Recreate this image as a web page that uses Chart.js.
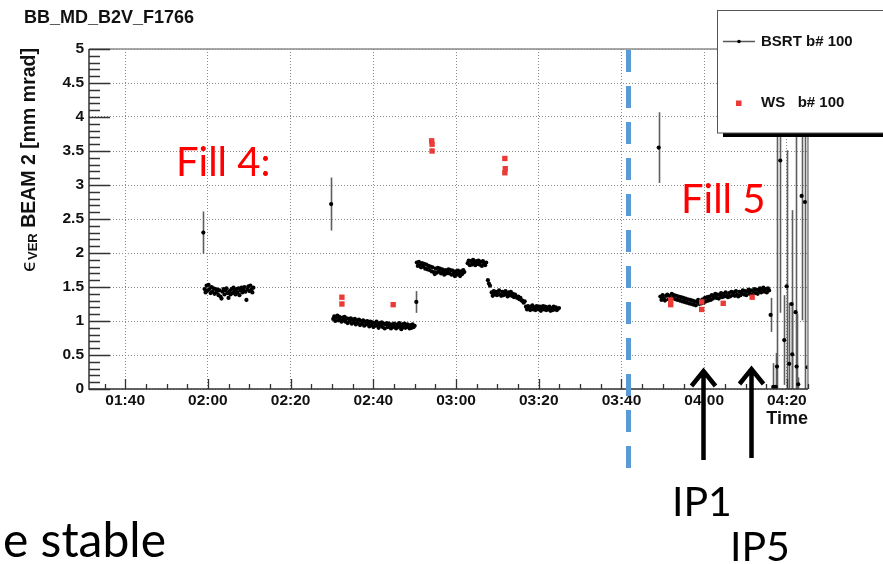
<!DOCTYPE html>
<html>
<head>
<meta charset="utf-8">
<title>BB_MD_B2V_F1766</title>
<script src="https://cdn.jsdelivr.net/npm/chart.js@4.4.1/dist/chart.umd.min.js"></script>
<style>
  html, body { margin: 0; padding: 0; background: #fff; overflow: hidden; }
  #wrap { position: relative; width: 883px; height: 564px; overflow: hidden; }
  canvas { position: absolute; left: 0; top: 0; }
</style>
</head>
<body>
<div id="wrap"><canvas id="c" width="883" height="564"></canvas></div>
<script>
// ---- time axis (minutes after midnight) ----
const timeTickMinutes = [100, 120, 140, 160, 180, 200, 220, 240, 260];
const timeTickLabels  = ['01:40', '02:00', '02:20', '02:40', '03:00', '03:20', '03:40', '04:00', '04:20'];

// ---- BSRT b# 100: continuous logging runs, [first, last] sample time and readings ----
const fill4RunASpan = [119.2, 131.0];
const fill4RunA = [1.47, 1.42, 1.52, 1.45, 1.53, 1.47, 1.41, 1.50, 1.43, 1.48, 1.40, 1.47, 1.42, 1.46,
                   1.38, 1.45, 1.36, 1.33, 1.43, 1.47, 1.39, 1.45, 1.48, 1.41, 1.34, 1.44, 1.39, 1.47,
                   1.41, 1.49, 1.44, 1.39, 1.47, 1.42, 1.48, 1.38, 1.45, 1.49, 1.42, 1.46, 1.50, 1.43,
                   1.31, 1.47, 1.51, 1.44, 1.52, 1.46, 1.42, 1.49];

const fill4RunBSpan = [150.3, 170.0];
const fill4RunB = [1.03, 1.07, 1.00, 1.05, 1.08, 1.01, 1.06, 1.02, 0.99, 1.05, 1.01, 1.06, 0.99, 1.04,
                   0.97, 1.03, 0.99, 1.04, 0.96, 1.02, 0.98, 1.03, 0.95, 1.01, 0.97, 1.02, 0.94, 1.00,
                   0.96, 1.01, 0.93, 0.99, 0.95, 1.00, 0.96, 0.92, 0.99, 0.94, 0.98, 0.91, 0.97, 0.93,
                   0.99, 0.94, 0.90, 0.97, 0.93, 0.98, 0.91, 0.96, 0.89, 0.95, 0.97, 0.91, 0.96, 0.92,
                   0.89, 0.95, 0.91, 0.96, 0.92, 0.89, 0.95, 0.91, 0.97, 0.92, 0.88, 0.95, 0.91, 0.96,
                   0.90, 0.94, 0.95, 0.91, 0.89, 0.94, 0.90, 0.95, 0.91, 0.93];

const fill4RunCSpan = [170.5, 182.0];
const fill4RunC = [1.86, 1.81, 1.87, 1.82, 1.79, 1.85, 1.80, 1.84, 1.77, 1.83, 1.76, 1.81, 1.75, 1.80,
                   1.73, 1.79, 1.72, 1.69, 1.77, 1.71, 1.78, 1.73, 1.77, 1.70, 1.76, 1.72, 1.68, 1.75,
                   1.70, 1.74, 1.76, 1.70, 1.75, 1.68, 1.74, 1.70, 1.66, 1.73, 1.68, 1.74, 1.70, 1.66,
                   1.73, 1.69, 1.75, 1.72];

const fill4RunDSpan = [182.8, 187.3];
const fill4RunD = [1.85, 1.89, 1.82, 1.88, 1.83, 1.90, 1.86, 1.82, 1.88, 1.84, 1.89, 1.83, 1.87, 1.81,
                   1.88, 1.84, 1.82, 1.86];

const fill4RunESpan = [187.7, 188.2];
const fill4RunE = [1.60, 1.55, 1.52];

const fill4RunFSpan = [188.6, 196.6];
const fill4RunF = [1.42, 1.37, 1.44, 1.39, 1.43, 1.38, 1.42, 1.45, 1.39, 1.37, 1.43, 1.38, 1.42, 1.44,
                   1.39, 1.36, 1.42, 1.38, 1.43, 1.37, 1.40, 1.35, 1.39, 1.36, 1.34, 1.36, 1.32, 1.34,
                   1.30, 1.30, 1.27, 1.29];

const fill4RunGSpan = [196.9, 204.9];
const fill4RunG = [1.21, 1.17, 1.22, 1.19, 1.16, 1.21, 1.23, 1.17, 1.20, 1.16, 1.22, 1.18, 1.17, 1.21,
                   1.15, 1.19, 1.22, 1.17, 1.21, 1.16, 1.20, 1.17, 1.21, 1.15, 1.19, 1.16, 1.21, 1.17,
                   1.20, 1.16, 1.18, 1.19];

const fill5RunSpan = [229.4, 255.7];
const fill5Run = [1.36, 1.31, 1.38, 1.33, 1.30, 1.37, 1.39, 1.32, 1.37, 1.33, 1.40, 1.34, 1.38, 1.32,
                  1.37, 1.31, 1.36, 1.30, 1.35, 1.29, 1.34, 1.28, 1.33, 1.27, 1.32, 1.26, 1.31, 1.25,
                  1.30, 1.24, 1.29, 1.23, 1.28, 1.31, 1.25, 1.30, 1.26, 1.32, 1.27, 1.34, 1.29, 1.35,
                  1.30, 1.36, 1.31, 1.38, 1.33, 1.37, 1.40, 1.34, 1.39, 1.33, 1.38, 1.41, 1.35, 1.40,
                  1.36, 1.42, 1.37, 1.35, 1.41, 1.36, 1.43, 1.38, 1.42, 1.37, 1.44, 1.39, 1.36, 1.43,
                  1.38, 1.42, 1.45, 1.39, 1.44, 1.38, 1.43, 1.46, 1.40, 1.45, 1.39, 1.44, 1.47, 1.41,
                  1.46, 1.40, 1.45, 1.48, 1.42, 1.46, 1.49, 1.43, 1.47, 1.42, 1.48, 1.45];

// ---- BSRT b# 100: single readings with their errors ----
const bsrtSingleTime  = [118.9, 149.8, 170.4, 229.0, 256.06, 256.7, 257.3, 257.6, 258.4, 259.35,
                         259.93, 260.56, 261.14, 261.29, 262.1, 262.35, 262.74, 263.56, 264.36, 265.0];
const bsrtSingleValue = [2.30, 2.72, 1.28, 3.55, 1.09, 0.03, 0.03, 0.33, 3.36, 0.72,
                         1.51, 0.37, 1.25, 0.51, 1.13, 0.33, 0.07, 2.84, 2.75, 0.32];
const bsrtSingleError = [0.31, 0.39, 0.16, 0.52, 0.25, 0.35, 0.50, 5.00, 2.24, 0.66,
                         2.00, 0.90, 1.38, 0.75, 4.00, 0.78, 0.10, 1.83, 2.90, 4.50];

// ---- WS b# 100: wire-scanner measurements ----
const wsTime  = [152.4, 152.4, 164.8, 174.1, 174.2, 174.2, 191.8, 191.9, 191.8,
                 231.9, 231.9, 239.4, 239.4, 244.6, 251.6];
const wsValue = [1.35, 1.25, 1.24, 3.65, 3.60, 3.50, 3.39, 3.24, 3.18,
                 1.31, 1.24, 1.28, 1.17, 1.26, 1.35];

// ---- build point lists ----
function run(span, values) {
  return values.map((v, i) => ({
    x: span[0] + (span[1] - span[0]) * i / (values.length - 1),
    y: v,
    err: 0
  }));
}
const bsrtPoints = [].concat(
  run(fill4RunASpan, fill4RunA), run(fill4RunBSpan, fill4RunB), run(fill4RunCSpan, fill4RunC),
  run(fill4RunDSpan, fill4RunD), run(fill4RunESpan, fill4RunE), run(fill4RunFSpan, fill4RunF),
  run(fill4RunGSpan, fill4RunG), run(fill5RunSpan, fill5Run),
  bsrtSingleTime.map((t, i) => ({ x: t, y: bsrtSingleValue[i], err: bsrtSingleError[i] }))
);
const wsPoints = wsTime.map((t, i) => ({ x: t, y: wsValue[i] }));

const rootFont = '"Liberation Sans", Arial, Helvetica, sans-serif';
const slideFont = 'Lato, "Open Sans", sans-serif';

// error bars, drawn under the markers
const errorBars = {
  id: 'errorBars',
  beforeDatasetsDraw(chart) {
    const { ctx, chartArea: a, scales: { x, y } } = chart;
    ctx.save();
    ctx.beginPath();
    ctx.rect(a.left, a.top, a.right - a.left, a.bottom - a.top);
    ctx.clip();
    ctx.strokeStyle = '#5e5e5e';
    ctx.lineWidth = 1.6;
    bsrtPoints.forEach(p => {
      if (!p.err) return;
      const px = Math.round(x.getPixelForValue(p.x)) + 0.5;
      ctx.beginPath();
      ctx.moveTo(px, y.getPixelForValue(p.y - p.err));
      ctx.lineTo(px, y.getPixelForValue(p.y + p.err));
      ctx.stroke();
    });
    ctx.restore();
  }
};

// frame, inward tick marks, titles and legend box
const rootFrame = {
  id: 'rootFrame',
  afterDatasetsDraw(chart) {
    const { ctx, chartArea: a, scales: { x, y } } = chart;
    ctx.save();
    ctx.lineWidth = 1.5;
    ctx.strokeStyle = '#8c8c8c';
    ctx.beginPath();
    ctx.moveTo(a.left, a.top); ctx.lineTo(a.right, a.top); ctx.lineTo(a.right, a.bottom);
    ctx.stroke();
    ctx.strokeStyle = '#333';
    ctx.beginPath();
    ctx.moveTo(a.left, a.top); ctx.lineTo(a.left, a.bottom); ctx.lineTo(a.right, a.bottom);
    ctx.stroke();

    ctx.lineWidth = 1.3;
    ctx.strokeStyle = '#333';
    ctx.beginPath();
    for (let k = 0; k <= 50; k++) {
      const py = Math.round(y.getPixelForValue(k / 10)) + 0.5;
      const len = k % 5 === 0 ? 21 : 11;
      ctx.moveTo(a.left, py); ctx.lineTo(a.left + len, py);
    }
    for (let m = 95; m <= x.max; m += 5) {
      const px = Math.round(x.getPixelForValue(m)) + 0.5;
      const len = m % 20 === 0 ? 10 : 5;
      ctx.moveTo(px, a.bottom); ctx.lineTo(px, a.bottom - len);
    }
    ctx.stroke();
    ctx.restore();
  },
  afterDraw(chart) {
    const { ctx } = chart;
    ctx.save();
    ctx.fillStyle = '#111';
    ctx.textBaseline = 'middle';
    ctx.textAlign = 'left';
    ctx.font = 'bold 18px ' + rootFont;
    ctx.fillText('BB_MD_B2V_F1766', 24, 18);

    // vertical axis title with subscript
    const big = 'bold 19.5px ' + rootFont;
    const sym = '19.5px "DejaVu Sans", ' + rootFont;
    const sub = 'bold 13px ' + rootFont;
    ctx.font = sym; const wE = ctx.measureText('\u03F5').width;
    ctx.font = sub; const wV = ctx.measureText('VER').width;
    ctx.font = big; const wR = ctx.measureText(' BEAM 2 [mm mrad]').width;
    const total = wE + wV + wR;
    ctx.translate(29.5, 0);
    ctx.rotate(-Math.PI / 2);
    let pos = -48 - total;
    ctx.font = sym; ctx.fillText('\u03F5', pos, 0); pos += wE;
    ctx.font = sub; ctx.fillText('VER', pos, 4); pos += wV;
    ctx.font = big; ctx.fillText(' BEAM 2 [mm mrad]', pos, 0);
    ctx.restore();

    // legend
    ctx.save();
    ctx.fillStyle = '#000';
    ctx.fillRect(723, 133, 170, 4);
    ctx.fillStyle = '#fff';
    ctx.fillRect(717.5, 10.5, 200, 122.5);
    ctx.strokeStyle = '#555';
    ctx.lineWidth = 1;
    ctx.strokeRect(717.5, 10.5, 200, 122.5);
    ctx.strokeStyle = '#555';
    ctx.lineWidth = 1.5;
    ctx.beginPath(); ctx.moveTo(723, 41.5); ctx.lineTo(755, 41.5); ctx.stroke();
    ctx.fillStyle = '#000';
    ctx.beginPath(); ctx.arc(739, 41.5, 1.8, 0, Math.PI * 2); ctx.fill();
    ctx.fillStyle = '#ec3b36';
    ctx.fillRect(736, 100.5, 5.5, 5.5);
    ctx.fillStyle = '#111';
    ctx.font = 'bold 15px ' + rootFont;
    ctx.textBaseline = 'middle';
    ctx.fillText(chart.data.datasets[1].label, 761, 42);
    ctx.fillText(chart.data.datasets[0].label, 761, 103);
    ctx.restore();

    // slide marks: fill boundary, IP arrows and captions
    ctx.save();
    ctx.strokeStyle = '#5b9bd5';
    ctx.lineWidth = 5;
    ctx.setLineDash([22, 14]);
    ctx.beginPath(); ctx.moveTo(628.5, 50); ctx.lineTo(628.5, 475); ctx.stroke();
    ctx.setLineDash([]);
    ctx.strokeStyle = '#000';
    ctx.lineWidth = 4.5;
    [[703.5, 369, 460], [751.5, 367, 458]].forEach(([ax, tip, end]) => {
      ctx.beginPath();
      ctx.moveTo(ax, end); ctx.lineTo(ax, tip + 2);
      ctx.moveTo(ax - 12, tip + 17); ctx.lineTo(ax, tip + 2); ctx.lineTo(ax + 12, tip + 17);
      ctx.stroke();
    });
    ctx.textBaseline = 'alphabetic';
    ctx.fillStyle = '#ff0000';
    ctx.font = '40px ' + slideFont;
    ctx.fillText('Fill 4:', 176, 176);
    ctx.fillText('Fill 5', 681, 213);
    ctx.fillStyle = '#000';
    ctx.font = '41px ' + slideFont;
    ctx.fillText('IP1', 672, 516);
    ctx.fillText('IP5', 730, 561);
    ctx.font = '48px ' + slideFont;
    ctx.textAlign = 'right';
    ctx.fillText('e stable', 166, 557);
    ctx.restore();
  }
};

const tickFont = { family: rootFont, size: 15.5, weight: 'bold' };

new Chart(document.getElementById('c'), {
  type: 'scatter',
  data: {
    datasets: [
      { label: 'WS   b# 100', data: wsPoints, pointStyle: 'rect', pointRadius: 3.8,
        backgroundColor: '#ec3b36', borderWidth: 0 },
      { label: 'BSRT b# 100', data: bsrtPoints, pointStyle: 'circle', pointRadius: 2.1,
        backgroundColor: '#000', borderWidth: 0 }
    ]
  },
  options: {
    responsive: false,
    animation: false,
    events: [],
    layout: { padding: { left: 0, right: 75, top: 49, bottom: 130 } },
    plugins: { legend: { display: false }, tooltip: { enabled: false }, title: { display: false } },
    scales: {
      x: {
        type: 'linear',
        min: 91.25,
        max: 265.1,
        afterBuildTicks: s => { s.ticks = timeTickMinutes.map(v => ({ value: v })); },
        afterFit: s => { s.height = 45; },
        ticks: {
          autoSkip: false, maxRotation: 0, padding: 2, color: '#111', font: tickFont,
          callback: v => timeTickLabels[timeTickMinutes.indexOf(v)]
        },
        grid: { drawTicks: false, color: '#8a8a8a', lineWidth: 1 },
        border: { display: false, dash: [1, 2] },
        title: {
          display: true, text: 'Time', align: 'end', color: '#111',
          font: { family: rootFont, size: 18, weight: 'bold' }, padding: { top: 0, bottom: 4 }
        }
      },
      y: {
        min: 0,
        max: 5,
        afterFit: s => { s.width = 89; },
        ticks: {
          stepSize: 0.5, padding: 5, color: '#111', font: tickFont,
          callback: v => String(Math.round(v * 10) / 10)
        },
        grid: { drawTicks: false, color: '#8a8a8a', lineWidth: 1 },
        border: { display: false, dash: [1, 2] }
      }
    }
  },
  plugins: [errorBars, rootFrame]
});
</script>
</body>
</html>
